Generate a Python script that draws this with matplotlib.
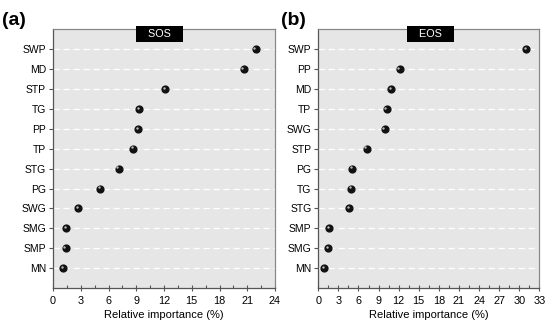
import numpy as np
import matplotlib
matplotlib.use("Agg")
import matplotlib.pyplot as plt
import matplotlib.transforms as mtransforms
from matplotlib.ticker import MultipleLocator

plt.rcParams['font.family'] = ['Liberation Sans', 'DejaVu Sans']

# panel (a): SOS, listed bottom to top
sos_vars = ["MN", "SMP", "SMG", "SWG", "PG", "STG", "TP", "PP", "TG", "STP", "MD", "SWP"]
sos_vals = [1.1, 1.35, 1.45, 2.7, 5.1, 7.1, 8.7, 9.2, 9.35, 12.1, 20.6, 21.9]

# panel (b): EOS, listed bottom to top
eos_vars = ["MN", "SMG", "SMP", "STG", "TG", "PG", "STP", "SWG", "TP", "MD", "PP", "SWP"]
eos_vals = [0.9, 1.5, 1.6, 4.55, 4.85, 5.1, 7.2, 9.9, 10.2, 10.85, 12.15, 31.0]

fig = plt.figure(figsize=(5.5, 3.25), dpi=100)
ax1 = fig.add_axes([0.0964, 0.1138, 0.4036, 0.796])
ax2 = fig.add_axes([0.5787, 0.1138, 0.4018, 0.796])


def panel(ax, names, vals, xmax, title, title_x):
    ax.set_facecolor("#e6e6e6")
    y = np.arange(len(names))
    for yy in y:
        ax.axhline(yy, color="white", lw=0.9, ls=(0, (5, 3)), zorder=1)
    ax.scatter(vals, y, s=24, color="#111111", zorder=3)
    hl = mtransforms.offset_copy(ax.transData, fig=fig, x=-0.9, y=0.9, units="points")
    ax.scatter(vals, y, s=3, color="#bbbbbb", zorder=4, transform=hl, lw=0)
    ax.set_xlim(0, xmax)
    ax.set_ylim(-1, len(names))
    ax.set_yticks(y)
    ax.set_yticklabels(names, fontsize=7.5)
    ax.xaxis.set_major_locator(MultipleLocator(3))
    ax.xaxis.set_minor_locator(MultipleLocator(1.5))
    ax.tick_params(axis="x", which="major", direction="inout", length=5,
                   width=0.8, color="#555555", labelsize=7.8, pad=3.5)
    ax.tick_params(axis="x", which="minor", direction="in", length=2.5,
                   width=0.8, color="#555555")
    ax.tick_params(axis="y", direction="out", length=3, width=0.8,
                   color="#555555", pad=2)
    for sp in ax.spines.values():
        sp.set_color("#888888")
        sp.set_linewidth(0.9)
    ax.spines["bottom"].set_color("#555555")
    ax.spines["left"].set_color("#555555")
    ax.set_xlabel("Relative importance (%)", fontsize=8, labelpad=2.5)
    ax.text(title_x, 1.0, title, transform=ax.transAxes, ha="center", va="top",
            color="white", fontsize=7.8, zorder=5,
            bbox=dict(boxstyle="square,pad=0.28", fc="black", ec="black",
                      lw=0))


panel(ax1, sos_vars, sos_vals, 24, "   SOS   ", 0.48)
panel(ax2, eos_vars, eos_vals, 33, "   EOS   ", 0.509)

fig.text(0.004, 0.938, "(a)", ha="left", va="center", fontsize=14, fontweight="bold")
fig.text(0.511, 0.938, "(b)", ha="left", va="center", fontsize=14, fontweight="bold")

fig.savefig("out.png", dpi=100)
